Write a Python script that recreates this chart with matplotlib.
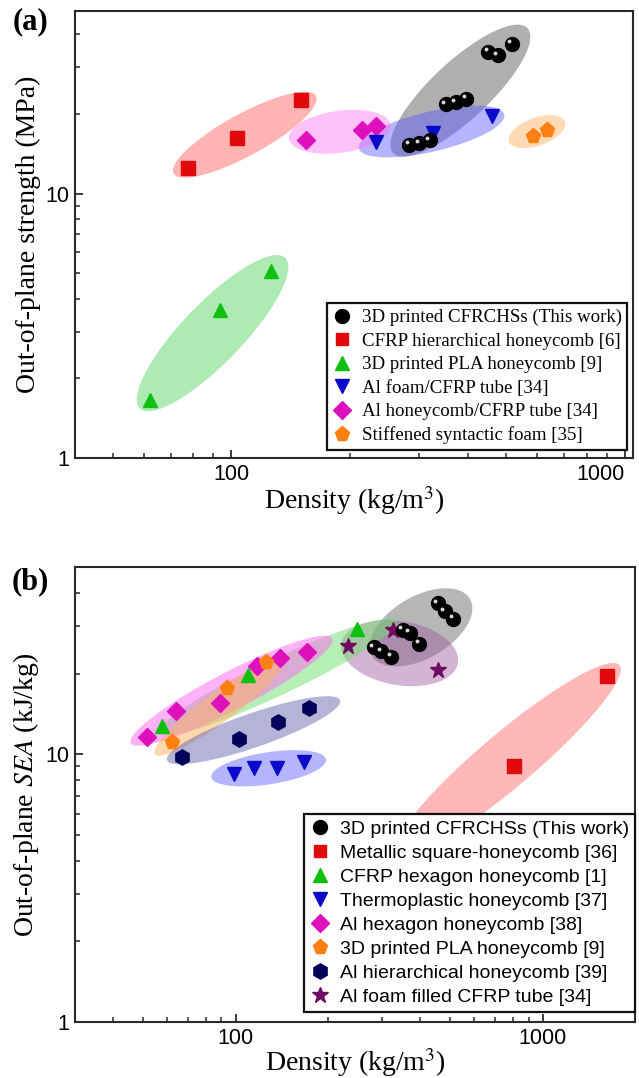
import numpy as np
import matplotlib
matplotlib.use("Agg")
import matplotlib.pyplot as plt
from matplotlib.patches import Polygon
from matplotlib.lines import Line2D
from matplotlib.transforms import offset_copy
from matplotlib.ticker import LogLocator, NullFormatter, FixedLocator, FixedFormatter

plt.rcParams['mathtext.fontset'] = 'stix'

# ---------------- Panel (a) data: density (kg/m3), out-of-plane strength (MPa)
a_cfrchs_x = [516, 450, 475, 351, 372, 395, 283, 300, 319]
a_cfrchs_y = [36.9, 34.4, 33.4, 21.8, 22.1, 22.8, 15.3, 15.5, 15.9]
a_cfrp_x = [77.6, 103, 150]
a_cfrp_y = [12.5, 16.2, 22.6]
a_pla_x = [62.2, 93.4, 125.7]
a_pla_y = [1.66, 3.62, 5.09]
a_alfoam_x = [233, 325, 459]
a_alfoam_y = [15.6, 16.9, 19.7]
a_alhc_x = [154.6, 214.5, 233]
a_alhc_y = [15.9, 17.4, 18.05]
a_synt_x = [585, 635]
a_synt_y = [16.5, 17.4]

a_labels = ["3D printed CFRCHSs (This work)", "CFRP hierarchical honeycomb [6]",
            "3D printed PLA honeycomb [9]", "Al foam/CFRP tube [34]",
            "Al honeycomb/CFRP tube [34]", "Stiffened syntactic foam [35]"]

# ellipse regions (a): major-axis end points in data units
a_ell_p1 = [(258, 14.2), (71.3, 11.9), (58.5, 1.54), (211, 14.8), (140, 16.1), (508, 15.7)]
a_ell_p2 = [(566, 42.2), (164, 23.4), (137, 5.71), (494, 19.9), (254, 18.2), (705, 18.7)]

# ---------------- Panel (b) data: density (kg/m3), out-of-plane SEA (kJ/kg)
b_cfrchs_x = [456, 481, 511, 350, 369, 396, 282, 298, 322]
b_cfrchs_y = [36.6, 34.2, 32.1, 29.1, 28.4, 25.9, 25.1, 24.2, 23.1]
b_metal_x = [807, 1622]
b_metal_y = [9.04, 19.6]
b_cfrphex_x = [57.8, 109.7, 248.8]
b_cfrphex_y = [12.7, 19.7, 29.4]
b_thermo_x = [98.5, 114.6, 136.3, 167.1]
b_thermo_y = [8.42, 8.87, 8.87, 9.34]
b_alhex_x = [51.6, 64.2, 89.3, 117.4, 139.4, 170.5]
b_alhex_y = [11.6, 14.5, 15.5, 21.4, 22.8, 24.0]
b_pla_x = [62.3, 93.9, 125.4]
b_pla_y = [11.1, 17.7, 22.0]
b_alhier_x = [66.9, 102.5, 137.6, 173.9]
b_alhier_y = [9.77, 11.4, 13.2, 14.9]
b_alfoam_x = [232.4, 324.8, 457.9]
b_alfoam_y = [25.3, 29.0, 20.7]

b_labels = ["3D printed CFRCHSs (This work)", "Metallic square-honeycomb [36]",
            "CFRP hexagon honeycomb [1]", "Thermoplastic honeycomb [37]",
            "Al hexagon honeycomb [38]", "3D printed PLA honeycomb [9]",
            "Al hierarchical honeycomb [39]", "Al foam filled CFRP tube [34]"]

# ellipse regions (b): major-axis end points in data units
b_ell_p1 = [(278, 23.3), (221, 25.96), (56.3, 11.98), (45.6, 11.0), (54.7, 10.0),
            (59.8, 9.5), (83.4, 8.21), (330, 4.2)]
b_ell_p2 = [(580, 38.0), (530, 21.9), (335, 31.5), (206.5, 27.1), (142.6, 22.4),
            (219, 15.9), (197, 9.56), (1780, 21.5)]

# ---------------- figure
W, H = 639, 1078
DPI = 100
fig = plt.figure(figsize=(W / DPI, H / DPI), dpi=DPI)

def px_axes(l, t, r, b):
    return fig.add_axes([l / W, 1 - b / H, (r - l) / W, (b - t) / H])

axa = px_axes(75, 11, 633, 458)
axb = px_axes(75, 567, 635, 1022)

SERIF = ['Liberation Serif', 'DejaVu Serif']
SANS = ['Liberation Sans', 'DejaVu Sans']
SPINE = '#2a2a2a'

def style_axes(ax, xlim, ylim, xmajor):
    ax.set_xscale('log')
    ax.set_yscale('log')
    ax.set_xlim(*xlim)
    ax.set_ylim(*ylim)
    for s in ax.spines.values():
        s.set_linewidth(1.5)
        s.set_color(SPINE)
    ax.xaxis.set_major_locator(FixedLocator(xmajor))
    ax.xaxis.set_major_formatter(FixedFormatter([str(v) for v in xmajor]))
    ax.yaxis.set_major_locator(FixedLocator([1, 10]))
    ax.yaxis.set_major_formatter(FixedFormatter(['1', '10']))
    ax.xaxis.set_minor_locator(LogLocator(base=10, subs=np.arange(2, 10), numticks=20))
    ax.yaxis.set_minor_locator(LogLocator(base=10, subs=np.arange(2, 10), numticks=20))
    ax.xaxis.set_minor_formatter(NullFormatter())
    ax.yaxis.set_minor_formatter(NullFormatter())
    ax.tick_params(which='major', direction='in', length=6, width=1.3, color=SPINE,
                   labelsize=15.5, pad=4, top=False, right=False)
    ax.tick_params(which='minor', direction='in', length=3.5, width=1.1, color=SPINE,
                   top=False, right=False)
    for lab in ax.get_xticklabels() + ax.get_yticklabels():
        lab.set_family(SANS)

style_axes(axa, (40, 1050), (1, 49), [100, 1000])
style_axes(axb, (30, 2000), (1, 50), [100, 1000])
# the last x label of panel (a) sits against the right edge
axa.get_xticklabels()[-1].set_horizontalalignment('right')

def ellipse(ax, p1, p2, half_minor, color, alpha, z=1):
    T = ax.transData
    d1 = T.transform(p1)
    d2 = T.transform(p2)
    c = (d1 + d2) / 2
    v = (d2 - d1) / 2
    a = np.hypot(*v)
    u = v / a
    n = np.array([-u[1], u[0]])
    b = half_minor * fig.dpi / DPI
    t = np.linspace(0, 2 * np.pi, 240)
    pts = c + np.outer(np.cos(t) * a, u) + np.outer(np.sin(t) * b, n)
    data = T.inverted().transform(pts)
    ax.add_patch(Polygon(data, closed=True, facecolor=color, edgecolor='none',
                         alpha=alpha, zorder=z))

# ---- panel (a) ellipses
a_ell_style = [(29, '#7a7a7a', 0.6), (21, '#ff6b6b', 0.5), (30, '#5fd66a', 0.5),
               (20, '#5a5aff', 0.45), (21, '#ff6ef0', 0.42), (14, '#ffae5a', 0.45)]
for p1, p2, (hm, col, al) in zip(a_ell_p1, a_ell_p2, a_ell_style):
    ellipse(axa, p1, p2, hm, col, al)

# ---- panel (b) ellipses
b_ell_style = [(31, '#7a7a7a', 0.55), (32, '#a05aa0', 0.45), (18, '#6ee06e', 0.5),
               (19, '#ff66f0', 0.5), (15, '#ffb060', 0.5), (17, '#5a5aa8', 0.45),
               (16, '#5a5aff', 0.45), (27, '#ff7070', 0.5)]
for p1, p2, (hm, col, al) in zip(b_ell_p1, b_ell_p2, b_ell_style):
    ellipse(axb, p1, p2, hm, col, al)

C_RED = '#e00a0a'
C_GRN = '#10c010'
C_BLU = '#0a0ac8'
C_MAG = '#dd10bb'
C_ORA = '#ff7f10'
C_NAV = '#00005a'
C_PUR = '#6e0a60'

def balls(ax, x, y, ms=10):
    ax.plot(x, y, 'o', color='black', ms=ms, mec='black', ls='none', zorder=5)
    tr = offset_copy(ax.transData, fig=fig, x=-1.8, y=1.8, units='points')
    ax.plot(x, y, 'o', color='#d8d8d8', ms=ms * 0.28, mec='none', ls='none',
            zorder=6, transform=tr)

def mk(ax, x, y, m, c, ms):
    ax.plot(x, y, m, color=c, mec=c, ms=ms, ls='none', zorder=5)

# ---- panel (a) markers
mk(axa, a_cfrp_x, a_cfrp_y, 's', C_RED, 9.5)
mk(axa, a_pla_x, a_pla_y, '^', C_GRN, 10)
mk(axa, a_alhc_x, a_alhc_y, 'D', C_MAG, 9)
mk(axa, a_alfoam_x, a_alfoam_y, 'v', C_BLU, 10)
mk(axa, a_synt_x, a_synt_y, 'p', C_ORA, 11)
balls(axa, a_cfrchs_x, a_cfrchs_y)

# ---- panel (b) markers
mk(axb, b_metal_x, b_metal_y, 's', C_RED, 9.5)
mk(axb, b_alhex_x, b_alhex_y, 'D', C_MAG, 9)
mk(axb, b_pla_x, b_pla_y, 'p', C_ORA, 11)
mk(axb, b_cfrphex_x, b_cfrphex_y, '^', C_GRN, 10)
mk(axb, b_alhier_x, b_alhier_y, 'h', C_NAV, 11)
mk(axb, b_thermo_x, b_thermo_y, 'v', C_BLU, 10)
mk(axb, b_alfoam_x, b_alfoam_y, '*', C_PUR, 12)
balls(axb, b_cfrchs_x, b_cfrchs_y)

def h(m, c, ms):
    return Line2D([], [], marker=m, color=c, mec=c, ms=ms, ls='none')

a_handles = [h('o', 'black', 10), h('s', C_RED, 8), h('^', C_GRN, 10),
             h('v', C_BLU, 10), h('D', C_MAG, 9), h('p', C_ORA, 11)]
b_handles = [h('o', 'black', 10), h('s', C_RED, 8), h('^', C_GRN, 10),
             h('v', C_BLU, 10), h('D', C_MAG, 9), h('p', C_ORA, 11),
             h('h', C_NAV, 11), h('*', C_PUR, 12)]

def legend(ax, handles, labels, family, anchor, fs, spacing):
    lg = ax.legend(handles, labels, loc='lower right', bbox_to_anchor=anchor,
                   borderaxespad=0, frameon=True, fancybox=False,
                   prop={'family': family, 'size': fs}, handlelength=1.0,
                   handletextpad=0.55, labelspacing=spacing, borderpad=0.3)
    fr = lg.get_frame()
    fr.set_edgecolor('#111111')
    fr.set_linewidth(1.6)
    fr.set_alpha(1)
    lg.set_zorder(20)
    return lg

legend(axa, a_handles, a_labels, SERIF, (0.99, 0.018), 13.6, 0.33)
legend(axb, b_handles, b_labels, SANS, (1.0, 0.0226), 14.0, 0.33)

# labels
axa.set_xlabel(r'Density (kg/m$^{3}$)', family=SERIF, fontsize=20, labelpad=0)
axb.set_xlabel(r'Density (kg/m$^{3}$)', family=SERIF, fontsize=20, labelpad=-2)
axa.set_ylabel('Out-of-plane strength (MPa)', family=SERIF, fontsize=20)
axb.set_ylabel(r'Out-of-plane $SEA$ (kJ/kg)', family=SERIF, fontsize=20)
axa.yaxis.set_label_coords(-0.061, 0.5)
axb.yaxis.set_label_coords(-0.061, 0.5)

fig.text(30 / W, 1 - 22 / H, '(a)', ha='center', va='center', fontsize=22,
         fontweight='bold', family=SERIF)
fig.text(30 / W, 1 - 582 / H, '(b)', ha='center', va='center', fontsize=22,
         fontweight='bold', family=SERIF)

fig.savefig('out.png', dpi=DPI)
